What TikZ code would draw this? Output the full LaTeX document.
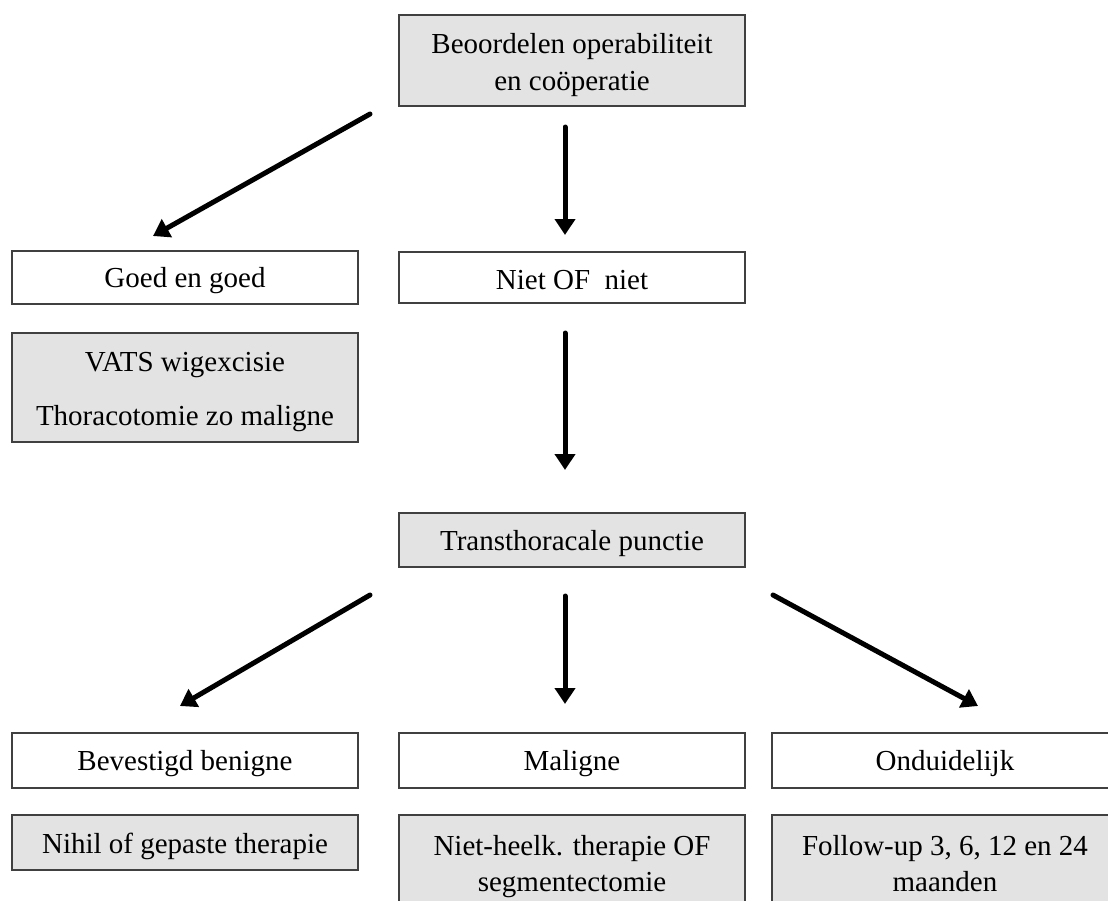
\documentclass[tikz,border=0pt]{standalone}
\usepackage{fontspec}
\setmainfont{Liberation Serif}
\usetikzlibrary{arrows.meta}
\definecolor{boxgray}{HTML}{E3E3E3}
\definecolor{edge}{HTML}{404040}
\tikzset{
  box/.style={draw=edge, line width=1.5pt, inner sep=0pt},
  graybox/.style={box, fill=boxgray},
  whitebox/.style={box, fill=white},
  txt/.style={anchor=base, inner sep=0pt, font=\fontsize{29}{37}\selectfont},
  arr/.style={line width=5pt, line cap=round, -{Triangle[length=16pt,width=20pt]}}
}
\begin{document}
\begin{tikzpicture}[x=1pt,y=-1pt]
\useasboundingbox (0,0) rectangle (1108,900);
\clip (0,0) rectangle (1108,900);
% boxes
\path[graybox]  (399,15)  rectangle (745,106) node[midway] (top) {};
\path[whitebox] (12,251)  rectangle (358,304) node[midway] (goed) {};
\path[graybox]  (12,333)  rectangle (358,442) node[midway] (vats) {};
\path[whitebox] (399,252) rectangle (745,303) node[midway] (niet) {};
\path[graybox]  (399,513) rectangle (745,567) node[midway] (trans) {};
\path[whitebox] (12,733)  rectangle (358,788) node[midway] (benigne) {};
\path[graybox]  (12,815)  rectangle (358,870) node[midway] (nihil) {};
\path[whitebox] (399,733) rectangle (745,788) node[midway] (maligne) {};
\path[graybox]  (399,815) rectangle (745,915) node[midway] (niet2) {};
\path[whitebox] (772,733) rectangle (1118,788) node[midway] (ond) {};
\path[graybox]  (772,815) rectangle (1118,915) node[midway] (follow) {};
% texts
\node[txt] (top1) at (572,53) {Beoordelen operabiliteit};
\node[txt] (top2) at (572,90) {en coöperatie};
\node[txt] (goedt) at (185,287) {Goed en goed};
\node[txt] (vats1) at (185,371) {VATS wigexcisie};
\node[txt] (vats2) at (185,425) {Thoracotomie zo maligne};
\node[txt] (niett) at (572,289) {Niet OF\ \ niet};
\node[txt] (transt) at (572,550) {Transthoracale punctie};
\node[txt] (benignet) at (185,770) {Bevestigd benigne};
\node[txt] (nihilt) at (185,853) {Nihil of gepaste therapie};
\node[txt] (malignet) at (572,770) {Maligne};
\node[txt] (niet2a) at (572,855) {Niet-heelk. therapie OF};
\node[txt] (niet2b) at (572,891) {segmentectomie};
\node[txt] (ondt) at (945,770) {Onduidelijk};
\node[txt] (follow1) at (945,855) {Follow-up 3, 6, 12 en 24};
\node[txt] (follow2) at (945,891) {maanden};
% arrow end points
\coordinate (a1s) at (370,114);
\coordinate (a1e) at (153,236);
\coordinate (a2s) at (565,127);
\coordinate (a2e) at (565,235);
\coordinate (a3s) at (565,333);
\coordinate (a3e) at (565,470);
\coordinate (a4s) at (370,595);
\coordinate (a4e) at (180,706);
\coordinate (a5s) at (565,596);
\coordinate (a5e) at (565,704);
\coordinate (a6s) at (773,595);
\coordinate (a6e) at (978,706);
\draw[arr] (a1s) -- (a1e);
\draw[arr] (a2s) -- (a2e);
\draw[arr] (a3s) -- (a3e);
\draw[arr] (a4s) -- (a4e);
\draw[arr] (a5s) -- (a5e);
\draw[arr] (a6s) -- (a6e);
\end{tikzpicture}
\end{document}
